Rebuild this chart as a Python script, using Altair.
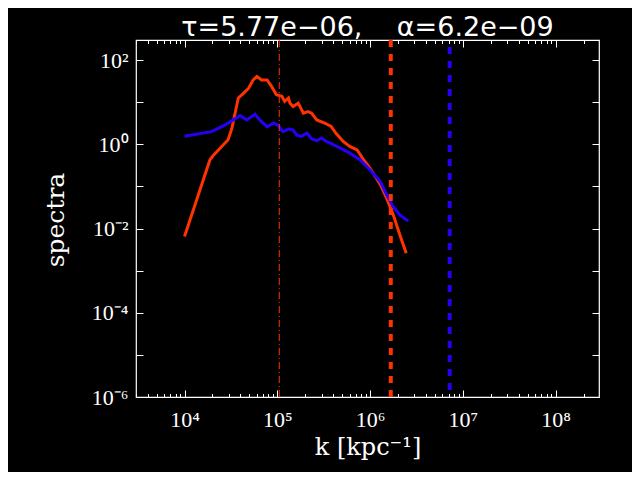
import json
import altair as alt
import pandas as pd

# ---- data ----
RED_K = [1.0e4, 1.88e4, 2.04e4, 2.95e4, 3.24e4, 3.80e4, 4.17e4, 4.90e4, 5.50e4, 6.03e4,
         6.76e4, 7.76e4, 8.71e4, 9.77e4, 1.12e5, 1.20e5, 1.32e5, 1.37e5, 1.48e5, 1.68e5,
         1.91e5, 2.14e5, 2.34e5, 2.66e5, 3.24e5, 3.80e5, 4.27e5, 5.13e5, 6.03e5, 7.24e5,
         8.51e5, 1.0e6, 1.29e6, 1.51e6, 1.78e6, 2.09e6, 2.45e6]
RED_S = [6.5e-3, 0.43, 0.54, 1.29, 2.4, 12.6, 15.1, 21.4, 33.9, 40.7,
         33.9, 33.9, 23.4, 15.1, 13.8, 10.5, 12.6, 9.5, 7.9, 9.5,
         5.5, 6.0, 5.5, 3.8, 3.2, 2.65, 1.85, 1.17, 0.89, 0.74,
         0.43, 0.27, 0.11, 0.052, 0.021, 0.0071, 0.0026]

BLUE_K = [1.0e4, 1.95e4, 2.75e4, 3.98e4, 4.68e4, 5.75e4, 6.46e4, 7.76e4, 9.12e4, 1.02e5,
          1.15e5, 1.32e5, 1.48e5, 1.62e5, 1.82e5, 2.09e5, 2.34e5, 2.66e5, 3.02e5, 3.40e5,
          3.72e5, 4.79e5, 6.03e5, 7.76e5, 1.0e6, 1.29e6, 1.51e6, 1.78e6, 2.09e6, 2.57e6]
BLUE_S = [1.55, 2.0, 2.9, 4.8, 3.8, 5.2, 3.8, 2.6, 3.2, 2.8,
          2.0, 2.3, 2.2, 1.65, 1.55, 1.86, 1.35, 1.22, 1.41, 1.15,
          1.07, 0.81, 0.62, 0.43, 0.245, 0.13, 0.063, 0.033, 0.021, 0.015]

VLINE_DASHDOT_K = [1.05e5]
VLINE_RED_K = [1.67e6]
VLINE_BLUE_K = [7.2e6]

X_MAJOR = [1e4, 1e5, 1e6, 1e7, 1e8]
X_MINOR = [m * 10 ** e for e in range(3, 9) for m in range(2, 10)
           if 3.0e3 <= m * 10 ** e <= 2.9e8]
Y_MAJOR = [1e2, 1e1, 1e0, 1e-1, 1e-2, 1e-3, 1e-4, 1e-5, 1e-6]
Y_LABELED = [1e2, 1e0, 1e-2, 1e-4, 1e-6]
X_LABELS = ['10\u2074', '10\u2075', '10\u2076', '10\u2077', '10\u2078']          # exponents 4..8
Y_LABELS = ['10\u207b\u2076', '10\u207b\u2075', '10\u207b\u2074', '10\u207b\u00b3',
            '10\u207b\u00b2', '10\u207b\u00b9', '10\u2070', '10\u00b9', '10\u00b2']  # -6..2

TITLE = '\u03c4=5.77e\u221206,\u00a0\u00a0\u00a0\u00a0\u03b1=6.2e\u221209'
X_TITLE = 'k [kpc\u207b\u00b9]'
Y_TITLE = 'spectra'

RED = '#ff3300'
BLUE = '#2400f4'
W, H = 463, 357

red_df = pd.DataFrame({'k': RED_K, 's': RED_S})
blue_df = pd.DataFrame({'k': BLUE_K, 's': BLUE_S})

xscale = alt.Scale(type='log', domain=[3.0e3, 2.93e8], nice=False)
yscale = alt.Scale(type='log', domain=[1e-6, 3.0e2], nice=False)

x_label_expr = json.dumps(X_LABELS, ensure_ascii=False) + '[round(log(datum.value)/LN10)-4]'
y_label_expr = json.dumps(Y_LABELS, ensure_ascii=False) + '[round(log(datum.value)/LN10)+6]'

tick_common = dict(labels=False, domain=False, grid=False, tickColor='white', tickWidth=1, title=None)

ax_x_lab = alt.Axis(orient='bottom', values=X_MAJOR, labelExpr=x_label_expr, ticks=False, tickSize=0,
                    domain=False, grid=False, labelFont='Liberation Serif', labelFontSize=22,
                    labelColor='white', labelPadding=12, labelFlush=False, labelOverlap=False,
                    title=X_TITLE, titleFont='DejaVu Serif', titleFontSize=24, titleFontWeight='normal',
                    titleColor='white', titleX=W / 2, titleY=57, titleBaseline='alphabetic',
                    titleAlign='center')
ax_x_bot_major = alt.Axis(orient='top', offset=-H, values=X_MAJOR, tickSize=7, **tick_common)
ax_x_bot_minor = alt.Axis(orient='top', offset=-H, values=X_MINOR, tickSize=3.5, **tick_common)
ax_x_top_major = alt.Axis(orient='bottom', offset=-H, values=X_MAJOR, tickSize=7, **tick_common)
ax_x_top_minor = alt.Axis(orient='bottom', offset=-H, values=X_MINOR, tickSize=3.5, **tick_common)

ax_y_lab = alt.Axis(orient='left', values=Y_LABELED, labelExpr=y_label_expr, ticks=False, tickSize=0,
                    domain=False, grid=False, labelFont='Liberation Serif', labelFontSize=22,
                    labelColor='white', labelPadding=8, labelFlush=False, labelOverlap=False,
                    title=Y_TITLE, titleFont='DejaVu Serif', titleFontSize=25, titleFontWeight='normal',
                    titleColor='white', titleX=-81, titleY=179.5, titleAngle=270,
                    titleAlign='center', titleBaseline='middle')
ax_y_left_ticks = alt.Axis(orient='right', offset=-W, values=Y_MAJOR, tickSize=7, **tick_common)
ax_y_right_ticks = alt.Axis(orient='left', offset=-W, values=Y_MAJOR, tickSize=7, **tick_common)

red_line = alt.Chart(red_df).mark_line(color=RED, strokeWidth=3).encode(
    x=alt.X('k:Q', scale=xscale, axis=ax_x_lab),
    y=alt.Y('s:Q', scale=yscale, axis=ax_y_lab))
blue_line = alt.Chart(blue_df).mark_line(color=BLUE, strokeWidth=3).encode(
    x=alt.X('k:Q', scale=xscale, axis=ax_x_bot_major),
    y=alt.Y('s:Q', scale=yscale, axis=ax_y_left_ticks))
ghost1 = alt.Chart(red_df).mark_line(opacity=0).encode(
    x=alt.X('k:Q', scale=xscale, axis=ax_x_bot_minor),
    y=alt.Y('s:Q', scale=yscale, axis=ax_y_right_ticks))
ghost2 = alt.Chart(red_df).mark_line(opacity=0).encode(
    x=alt.X('k:Q', scale=xscale, axis=ax_x_top_major),
    y=alt.Y('s:Q', scale=yscale, axis=None))
ghost3 = alt.Chart(red_df).mark_line(opacity=0).encode(
    x=alt.X('k:Q', scale=xscale, axis=ax_x_top_minor),
    y=alt.Y('s:Q', scale=yscale, axis=None))

dashdot = alt.Chart(pd.DataFrame({'k': VLINE_DASHDOT_K})).mark_rule(
    color=RED, strokeWidth=1, strokeDash=[7, 3, 1, 3]).encode(
    x=alt.X('k:Q', scale=xscale, axis=None), y=alt.value(0), y2=alt.value(H))
red_rule = alt.Chart(pd.DataFrame({'k': VLINE_RED_K})).mark_rule(
    color=RED, strokeWidth=4, strokeDash=[7, 7]).encode(
    x=alt.X('k:Q', scale=xscale, axis=None), y=alt.value(0), y2=alt.value(H))
blue_rule = alt.Chart(pd.DataFrame({'k': VLINE_BLUE_K})).mark_rule(
    color=BLUE, strokeWidth=4, strokeDash=[7, 7], strokeDashOffset=7).encode(
    x=alt.X('k:Q', scale=xscale, axis=None), y=alt.value(0), y2=alt.value(H))

chart = alt.layer(red_line, blue_line, ghost1, ghost2, ghost3, dashdot, red_rule, blue_rule).resolve_scale(
    x='shared', y='shared').resolve_axis(x='independent', y='independent').properties(
    width=W, height=H,
    title=alt.TitleParams(text=TITLE, font='DejaVu Sans', fontSize=27, fontWeight='normal',
                          color='white', anchor='middle', frame='group', baseline='alphabetic',
                          offset=6, dy=31),
    autosize=alt.AutoSizeParams(type='none'),
    padding={'left': 128, 'top': 32, 'right': 33, 'bottom': 75},
    background='black',
).configure_view(stroke='white', strokeWidth=1.2)

chart.save("out.html", embed_options={"renderer": "svg", "actions": False})
